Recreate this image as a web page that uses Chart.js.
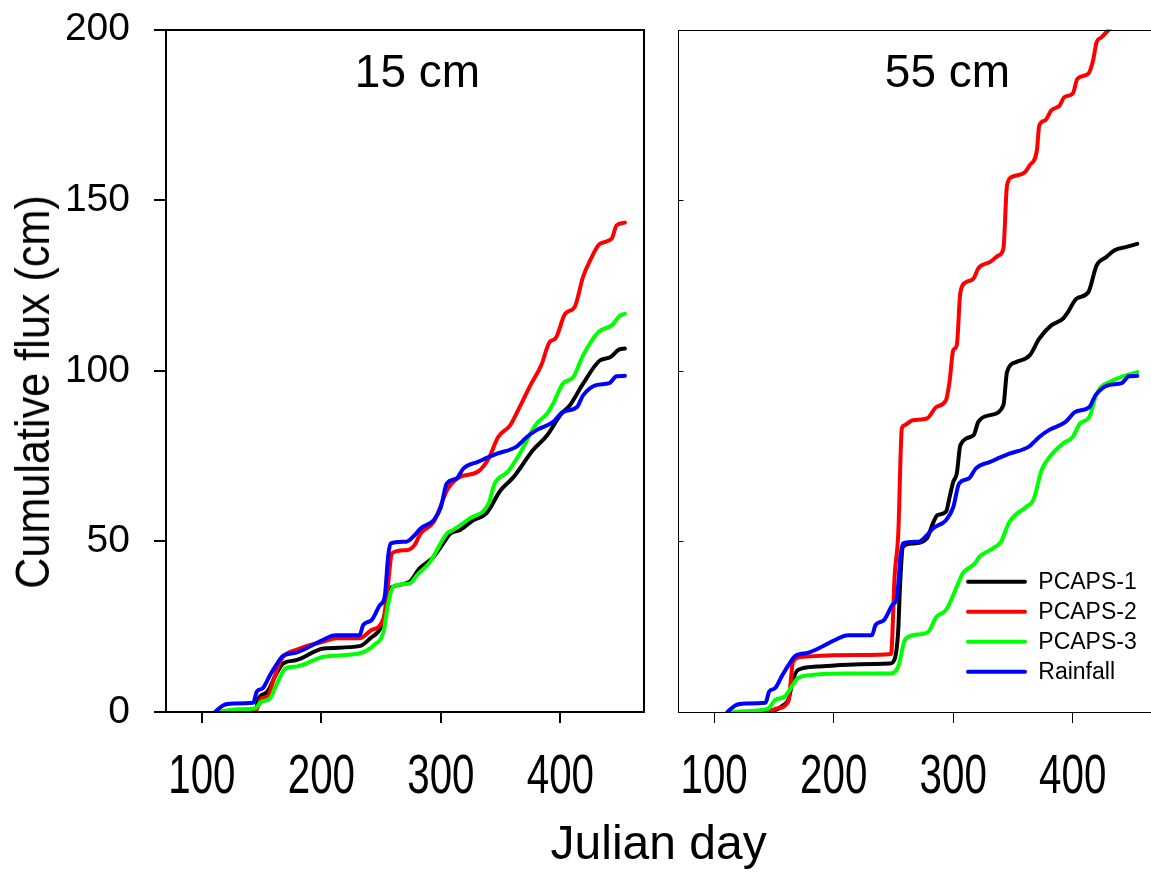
<!DOCTYPE html>
<html>
<head>
<meta charset="utf-8">
<script src="https://cdn.jsdelivr.net/npm/chart.js@4.4.1/dist/chart.umd.min.js"></script>
<style>
html,body{margin:0;padding:0;width:1151px;height:872px;overflow:hidden;background:#fff;}
.wrap{position:absolute;top:0;}
#w1{left:0;width:660px;height:872px;}
#w2{left:668px;width:500px;height:872px;}
.txt{position:absolute;font-family:"Liberation Sans",Arial,sans-serif;color:#000;white-space:nowrap;line-height:1;}
</style>
</head>
<body>
<div class="wrap" id="w1"><canvas id="c1" width="660" height="872"></canvas></div>
<div class="wrap" id="w2"><canvas id="c2" width="500" height="872"></canvas></div>
<div class="txt" id="ytitle" style="font-size:48px;left:32.5px;top:392px;transform:translate(-50%,-50%) rotate(-90deg) scaleX(0.9);">Cumulative flux (cm)</div>
<div class="txt" id="xtitle" style="font-size:48px;left:658.6px;top:819.4px;transform:translateX(-50%);">Julian day</div>
<div class="txt" id="t1" style="font-size:46px;left:417.5px;top:47.8px;transform:translateX(-50%);">15 cm</div>
<div class="txt" id="t2" style="font-size:46px;left:947.5px;top:47.8px;transform:translateX(-50%);">55 cm</div>
<script>
// ---- data ----
const xTicks = [100, 200, 300, 400];
const yTicks = [0, 50, 100, 150, 200];
const seriesNames = ['PCAPS-1', 'PCAPS-2', 'PCAPS-3', 'Rainfall'];
const seriesColors = ['#000000', '#ff0000', '#00ff00', '#0000ff'];

// Rainfall (same in both panels)
const rainDay  = [111,118,126,143,146,151,157,163,167,179,190,201,212,232,235,242,249,253,256,258,271,278,283,294,300,305,313,319,331,347,363,372,380,394,402,414,419,430,441,447,454];
const rainFlux = [0,2,2.5,2.7,6,7,10.8,14.2,16.2,17.4,19.1,21.1,22.5,22.5,25.5,26.9,31.3,33.8,46,49.4,49.9,51.8,53.8,56.2,60,67,68.4,71.4,73.3,75.7,77.7,80.6,82.6,85,87.9,89.4,92.8,95.8,96.4,98.4,98.5];

// 15 cm panel
const p1Day15  = [112,145,147,155,162,168,179,202,232,241,250,254,256,260,274,282,294,302,308,316,327,338,350,361,377,389,400,408,419,433,442,449,454];
const p1Flux15 = [0,0.5,3.5,6,11,14.2,15.2,18.6,19.3,21.6,25,30,35,36.7,38.2,42,45.5,49.4,52.3,53.3,56.2,58.2,65,68.9,76.7,81.1,87,89.9,96.2,103,104,106.2,106.5];
const p2Day15  = [112,145,150,155,160,167,179,201,213,232,242,252,256,259,271,278,283,294,306,316,331,340,348,358,366,375,384,391,396,404,412,419,425,433,443,447,454];
const p2Flux15 = [0,0.3,4,4.5,9.4,15.7,18.2,20.6,21.6,21.6,24,27.4,38,46.5,47.4,48.9,52.3,55.7,65.5,68.9,70.4,74.3,80.6,84,89.4,95.8,101.6,108.4,109.5,116.7,118.7,127.5,132.4,137.2,138.7,142.6,143.4];
const p3Day15  = [113,130,144,150,157,163,170,179,202,232,244,252,256,260,274,280,291,305,310,324,340,345,356,366,379,389,394,402,411,419,432,443,450,454];
const p3Flux15 = [0,0.8,1,3,4,8.4,12.8,13.3,16.2,17.2,19.6,23.5,31.8,36.7,37.7,40.1,44,52.3,53.3,56.7,61.1,66.9,70.4,75.7,84,87.5,90.4,96.2,98.2,104.5,111.4,113.3,116.2,116.7];

// 55 cm panel
const p1Day55  = [112,150,158,162,166,170,186,222,247,251,254,255.5,258,266,278,283,287,294,297,300,303,306,317,321,331,342,345,353,364,372,382,392,396,403,413,420,428,435,445,454];
const p1Flux55 = [0,0.5,2,3.5,9.4,12.3,13.3,14,14.2,15.5,24,37,48.4,49.4,50.9,55.3,57.7,58.7,63,67.4,69.9,78.2,81.1,85,87,89.9,99.6,102.6,104.5,109.4,113.3,115.3,117.2,121.1,123,130.9,133.3,135.3,136.3,137.2];
const p2Day55  = [112,147,152,162,166,171,180,222,248,251,254,257,259,266,278,286,294,297,300,303,306,311,317,321,331,338,342,345,349,360,364,370,372,377,382,389,393,400,404,413,417,420,424,428,431];
const p2Flux55 = [0,0.2,1,3,14.7,16,16.3,16.7,17,40,52,83,84,85.5,86,89.4,91.4,97,106,107.5,123,126,127,130,131.9,133.8,135.8,154.3,156.8,158.2,160.2,164.6,171.9,173.4,176.3,177.7,180.2,181.2,185.6,187,190.9,196.3,197.7,199.2,200.2];
const p3Day55  = [113,145,151,159,165,170,180,208,247,254,259.5,266.5,279,286,294,303,308,318,322,333,340,347,361,367,374,382,392,400,406,414,420,434,445,454];
const p3Flux55 = [0,1,3.5,4.5,7.5,9.9,10.8,11.3,11.3,13.3,21,22.5,23.5,27.9,29.9,36.7,40.6,43.5,45.5,47.9,49.9,55.7,60.1,62.1,70.9,75.3,78.7,80.6,84.5,86.5,93.3,97.2,98.7,99.6];

// ---- helpers ----
function pts(days, flux) { return days.map((d, i) => ({x: d, y: flux[i]})); }
function makeDatasets(groups) {
  const orders = [4, 3, 2, 1];
  return groups.map((g, i) => ({
    label: seriesNames[i],
    data: pts(g[0], g[1]),
    borderColor: seriesColors[i],
    backgroundColor: seriesColors[i],
    borderWidth: 4,
    pointRadius: 0,
    fill: false,
    order: orders[i],
    cubicInterpolationMode: 'monotone',
    borderCapStyle: 'round',
    borderJoinStyle: 'round'
  }));
}

const panelPlugin = {
  id: 'panel',
  afterDatasetsDraw(chart, args, opts) {
    const ctx = chart.ctx;
    const a = chart.chartArea;
    ctx.save();
    ctx.strokeStyle = '#000';
    ctx.lineWidth = opts.width;
    const off = opts.width % 2 === 1 ? 0.5 : 0;
    const L = Math.round(a.left) + off, T = Math.round(a.top) + off;
    const R = Math.round(a.right) + off, B = Math.round(a.bottom) + off;
    ctx.strokeRect(L, T, R - L, B - T);
    if (opts.innerTicks) {
      yTicks.forEach(v => {
        const y = Math.round(chart.scales.y.getPixelForValue(v)) + 0.5;
        ctx.beginPath(); ctx.moveTo(L, y); ctx.lineTo(L + opts.innerTicks, y); ctx.stroke();
      });
    }
    // x tick labels (condensed)
    ctx.fillStyle = '#000';
    ctx.font = '56px "Liberation Sans", Arial, sans-serif';
    ctx.textAlign = 'center';
    ctx.textBaseline = 'alphabetic';
    xTicks.forEach(v => {
      const x = chart.scales.x.getPixelForValue(v);
      ctx.save();
      ctx.translate(x, opts.labelY);
      ctx.scale(0.72, 1);
      ctx.fillText(String(v), 0, 0);
      ctx.restore();
    });
    if (opts.legend) {
      ctx.font = '23px "Liberation Sans", Arial, sans-serif';
      ctx.textAlign = 'left';
      ctx.textBaseline = 'middle';
      ctx.lineCap = 'round';
      chart.data.datasets.forEach((ds, i) => {
        const y = opts.legend.y + i * opts.legend.gap;
        ctx.strokeStyle = ds.borderColor;
        ctx.lineWidth = 4;
        ctx.beginPath();
        ctx.moveTo(a.left + opts.legend.x0, y);
        ctx.lineTo(a.left + opts.legend.x1, y);
        ctx.stroke();
        ctx.fillStyle = '#000';
        ctx.fillText(ds.label, a.left + opts.legend.tx, y + 1);
      });
    }
    ctx.restore();
  }
};

function setXTicks(s) { s.ticks = xTicks.map(v => ({value: v})); }
function setYTicks(s) { s.ticks = yTicks.map(v => ({value: v})); }

function makeChart(id, groups, left) {
  return new Chart(document.getElementById(id), {
    type: 'line',
    data: { datasets: makeDatasets(groups) },
    plugins: [panelPlugin],
    options: {
      responsive: false,
      animation: false,
      devicePixelRatio: 1,
      layout: { padding: left ? {top: 29.5, right: 16, left: 0, bottom: 0} : {top: 29.5, right: 11.6, left: 10.3, bottom: 0} },
      plugins: {
        legend: { display: false },
        tooltip: { enabled: false },
        panel: left ? { width: 2, innerTicks: 0, labelY: 793, legend: null }
                    : { width: 1, innerTicks: 5, labelY: 793, legend: { x0: 289.7, x1: 346.7, tx: 360, y: 581.7, gap: 30 } }
      },
      scales: {
        x: {
          type: 'linear', min: 70, max: 470,
          afterBuildTicks: setXTicks,
          afterFit: s => { s.height = 160; s.paddingLeft = 0; s.paddingRight = 0; },
          ticks: { display: false },
          grid: { display: true, drawOnChartArea: false, drawTicks: true, tickLength: 11, lineWidth: left ? 2 : 1, color: '#000' },
          border: { display: false }
        },
        y: {
          type: 'linear', min: 0, max: 200,
          display: left,
          afterBuildTicks: setYTicks,
          afterFit: s => { if (left) { s.width = 166; } else { s.width = 0; } s.paddingTop = 0; s.paddingBottom = 0; },
          ticks: { display: true, color: '#000', padding: 24, font: { family: '"Liberation Sans", Arial, sans-serif', size: 39 } },
          grid: { display: true, drawOnChartArea: false, drawTicks: true, tickLength: 12, lineWidth: 2, color: '#000' },
          border: { display: false }
        }
      }
    }
  });
}

makeChart('c1', [[p1Day15, p1Flux15], [p2Day15, p2Flux15], [p3Day15, p3Flux15], [rainDay, rainFlux]], true);
makeChart('c2', [[p1Day55, p1Flux55], [p2Day55, p2Flux55], [p3Day55, p3Flux55], [rainDay, rainFlux]], false);
</script>
</body>
</html>
